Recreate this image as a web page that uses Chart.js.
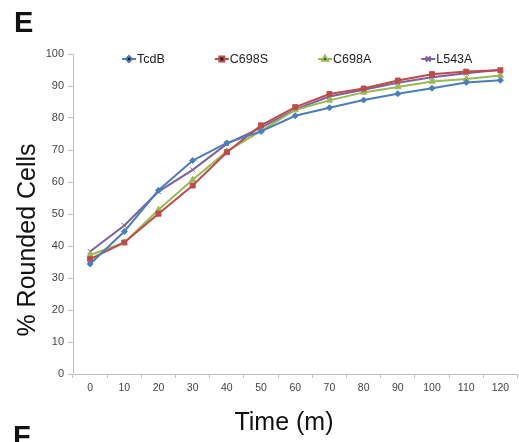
<!DOCTYPE html>
<html>
<head>
<meta charset="utf-8">
<script src="https://cdn.jsdelivr.net/npm/chart.js@4"></script>
<style>
  html, body { margin: 0; padding: 0; background: #fff; overflow: hidden; }
  #wrap { width: 522px; height: 442px; }
</style>
</head>
<body>
<div id="wrap"><canvas id="rounding"></canvas></div>
<script>
// Time points (minutes)
const times = ['0', '10', '20', '30', '40', '50', '60', '70', '80', '90', '100', '110', '120'];

// % rounded cells per construct
const tcdB  = [34.4, 44.5, 57.4, 66.7, 72.2, 75.8, 80.7, 83.2, 85.6, 87.6, 89.3, 91.1, 91.8];
const c698S = [35.9, 41.1, 50.1, 58.9, 69.3, 77.7, 83.4, 87.5, 89.2, 91.7, 93.7, 94.5, 94.9];
const c698A = [37.2, 41.0, 51.3, 60.7, 69.6, 76.0, 82.5, 85.5, 88.0, 89.7, 91.4, 92.2, 93.3];
const l543A = [38.3, 46.4, 57.0, 63.8, 71.9, 77.0, 82.7, 86.7, 88.8, 91.0, 92.7, 94.0, 95.1];

const yTicks = [0, 10, 20, 30, 40, 50, 60, 70, 80, 90, 100];

const FONT = '"Liberation Sans", Arial, sans-serif';
const AXIS_GREY = '#bfbfbf';

// legend drawn inside the plot: short line + marker, then label
const lineLegend = {
    id: 'lineLegend',
    afterDraw(chart) {
        const ctx = chart.ctx;
        const area = chart.chartArea;
        let x = area.left + 49;
        const y = area.top + 5;
        ctx.save();
        ctx.font = '12.5px ' + FONT;
        ctx.textBaseline = 'middle';
        ctx.textAlign = 'left';
        chart.data.datasets.forEach(ds => {
            ctx.strokeStyle = ds.borderColor;
            ctx.lineWidth = 2;
            ctx.beginPath();
            ctx.moveTo(x, y);
            ctx.lineTo(x + 14, y);
            ctx.stroke();
            Chart.helpers.drawPoint(ctx, {
                pointStyle: ds.pointStyle,
                radius: ds.pointRadius,
                borderWidth: 1
            }, x + 7, y);
            ctx.fillStyle = '#222';
            ctx.fillText(ds.label, x + 15, y + 1);
            x += 15 + ctx.measureText(ds.label).width + 50;
        });
        ctx.restore();
    }
};

// panel letters and axis titles
const figureText = {
    id: 'figureText',
    afterDraw(chart) {
        const ctx = chart.ctx;
        ctx.save();
        ctx.fillStyle = '#111';
        ctx.font = 'bold 29px ' + FONT;
        ctx.textAlign = 'left';
        ctx.textBaseline = 'alphabetic';
        ctx.fillText('E', 14, 32);
        ctx.fillText('F', 13, 446);

        ctx.font = '25px ' + FONT;
        ctx.textAlign = 'center';
        ctx.fillText('Time (m)', 284, 430);

        ctx.translate(35, 240);
        ctx.rotate(-Math.PI / 2);
        ctx.fillText('% Rounded Cells', 0, 0);
        ctx.restore();
    }
};

function series(label, data, color, style, radius) {
    return {
        label: label,
        data: data,
        borderColor: color,
        backgroundColor: color,
        borderWidth: 2,
        tension: 0,
        fill: false,
        pointStyle: style,
        pointRadius: radius,
        pointBorderWidth: 1,
        pointHoverRadius: radius
    };
}

const ctx = document.getElementById('rounding').getContext('2d');
const roundingChart = new Chart(ctx, {
    type: 'line',
    data: {
        labels: times,
        datasets: [
            series('TcdB', tcdB, '#4a7ebb', 'rectRot', 3),
            series('C698S', c698S, '#be4b48', 'rect', 3.5),
            series('C698A', c698A, '#98b954', 'triangle', 3.5),
            series('L543A', l543A, '#7d60a0', 'crossRot', 3.5)
        ]
    },
    options: {
        responsive: true,
        maintainAspectRatio: false,
        animation: false,
        layout: { padding: { top: 54, right: 1, left: 0, bottom: 0 } },
        plugins: {
            legend: { display: false },
            tooltip: { enabled: false }
        },
        scales: {
            x: {
                type: 'category',
                offset: true,
                afterFit: s => { s.height = 68; },
                grid: {
                    offset: true,
                    drawOnChartArea: false,
                    tickLength: 4,
                    color: AXIS_GREY
                },
                border: { color: AXIS_GREY },
                ticks: {
                    autoSkip: false,
                    maxRotation: 0,
                    padding: 4,
                    color: '#444',
                    font: { family: FONT, size: 10.5 }
                }
            },
            y: {
                min: 0,
                max: 100,
                afterFit: s => { s.width = 73; },
                afterBuildTicks: s => { s.ticks = yTicks.map(v => ({ value: v })); },
                grid: {
                    drawOnChartArea: false,
                    tickLength: 5,
                    color: AXIS_GREY
                },
                border: { color: AXIS_GREY },
                ticks: {
                    padding: 4,
                    color: '#444',
                    font: { family: FONT, size: 11 }
                }
            }
        }
    },
    plugins: [lineLegend, figureText]
});
</script>
</body>
</html>
